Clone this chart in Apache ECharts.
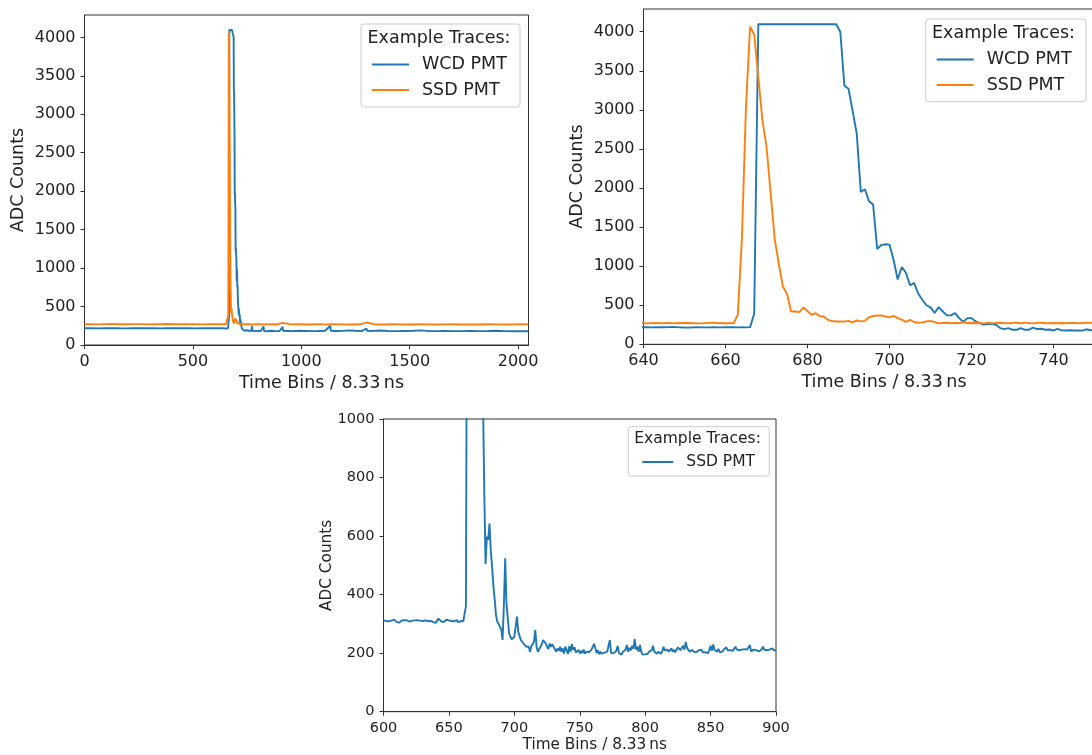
<!DOCTYPE html>
<html>
<head>
<meta charset="utf-8">
<script src="https://cdn.jsdelivr.net/npm/echarts@6/dist/echarts.min.js"></script>
<style>
  html, body { margin: 0; padding: 0; background: #fff; }
  #c { width: 1092px; height: 755px; }
</style>
</head>
<body>
<div id="c"></div>
<script>
// ---- Trace data: ADC counts per time bin ----

// WCD PMT, quiet region before the pulse ([bin, adc])
const wcdQuietBefore = [[0,217],[32,219],[64,216],[96,218],[128,220],[160,217],[192,216],[224,219],[256,218],[288,217],[320,219],[352,216],[384,218],[416,220],[448,217],[480,218],[512,216],[544,219],[576,217],[608,218],[624,217]];
// WCD PMT, every bin from 640 to 750
const wcdPulseStart = 640;
const wcdPulse = [
  218,218,217,218,218,219,220,222,220,217,
  215,214,216,218,217,216,217,218,217,216,
  218,219,218,217,218,217,220,390,4095,4095,
  4095,4095,4095,4095,4095,4095,4095,4095,4095,4095,
  4095,4095,4095,4095,4095,4095,4095,4095,4000,3310,
  3270,2990,2700,1950,1985,1830,1790,1220,1270,1280,
  1275,1080,830,990,915,755,785,650,570,500,
  472,400,476,420,370,370,400,335,285,335,
  335,293,272,252,258,258,250,207,194,207,
  186,186,207,186,186,214,195,199,186,190,
  177,197,178,177,180,176,177,175,192,180,
  182
];
// WCD PMT, tail after the pulse ([bin, adc])
const wcdQuietAfter = [[760,185],[770,182],[772,250],[774,185],[790,180],[800,183],[812,180],[826,240],[828,182],[845,178],[860,185],[880,180],[900,182],[914,235],[916,184],[940,182],[960,180],[990,185],[1020,183],[1050,180],[1080,182],[1110,185],[1134,250],[1136,185],[1160,182],[1190,184],[1220,190],[1250,186],[1280,183],[1301,215],[1303,185],[1330,183],[1360,188],[1400,182],[1440,180],[1480,183],[1520,185],[1550,190],[1580,183],[1620,181],[1660,183],[1700,181],[1740,180],[1780,182],[1820,180],[1860,182],[1900,185],[1940,180],[1980,179],[2020,178],[2047,178]];

// SSD PMT, quiet region before the pulse ([bin, adc])
const ssdQuietBefore = [[0,270],[32,272],[64,268],[96,271],[128,273],[160,270],[192,269],[224,272],[256,271],[288,268],[320,272],[352,270],[384,273],[416,269],[448,271],[480,270],[512,272],[544,268],[576,271],[608,270],[624,271]];
// SSD PMT, every bin from 640 to 750
const ssdPulseStart = 640;
const ssdPulse = [
  270,268,270,272,271,270,272,271,270,272,
  273,272,270,268,268,271,274,275,272,270,
  271,270,272,380,1350,3050,4065,3965,3420,2870,
  2530,1940,1350,1030,740,645,420,420,412,470,
  425,378,398,358,355,312,298,292,292,290,
  300,280,305,293,300,345,362,368,370,356,
  345,365,335,315,285,312,285,276,280,292,
  300,284,268,272,276,270,276,270,280,272,
  275,270,272,268,275,270,272,276,272,270,
  274,276,270,278,272,268,274,276,272,270,
  273,270,272,270,274,272,270,272,276,274,
  275
];
// SSD PMT, tail after the pulse ([bin, adc])
const ssdQuietAfter = [[760,272],[780,268],[800,271],[830,268],[860,270],[890,267],[914,288],[916,270],[950,268],[990,270],[1030,267],[1070,269],[1110,268],[1150,270],[1190,268],[1230,267],[1270,269],[1301,292],[1303,270],[1340,268],[1380,267],[1420,269],[1460,268],[1500,267],[1540,269],[1580,268],[1620,267],[1660,268],[1700,269],[1740,267],[1780,268],[1820,267],[1860,269],[1900,268],[1940,267],[1980,268],[2020,269],[2047,268]];

// Second SSD PMT trace, every bin from 600 to 900
const ssdZoomStart = 600;
const ssdZoom = [
  312,308,310,306,309,313,311,308,315,310,
  307,309,304,309,312,310,313,309,312,310,
  308,313,311,309,312,310,313,309,311,307,
  310,308,312,306,309,305,310,308,306,311,
  304,310,318,312,309,313,306,311,314,310,
  312,308,310,314,309,311,313,306,311,309,
  305,310,312,
  360,1800,3900,4090,4095,4095,4095,4000,3400,2700,2100,1700,1350,1080,760,505,598,587,643,
  552,495,430,384,330,307,300,290,281,245,
  360,524,370,368,268,256,247,245,256,262,
  325,273,279,245,239,233,228,222,216,222,
  205,224,231,239,279,222,205,202,222,
  231,245,247,233,222,214,233,222,231,222,
  225,205,216,208,222,205,216,199,222,211,
  197,224,205,231,211,220,202,205,211,199,
  208,200,212,198,205,200,203,198,212,222,
  232,215,200,210,196,205,198,192,202,196,
  205,200,245,200,195,200,194,208,225,200,
  198,195,205,202,212,228,205,218,210,225,
  215,248,212,222,205,228,205,195,197,196,
  200,198,205,200,210,225,205,200,198,205,
  203,198,206,222,210,205,212,205,210,216,
  205,212,203,208,220,214,210,218,225,212,
  238,218,212,205,200,212,205,208,203,200,
  210,205,212,203,198,203,206,200,210,225,
  208,230,212,218,205,215,203,208,205,212,
  208,220,210,205,210,212,208,215,222,212,
  208,210,206,212,210,214,208,212,210,228,
  206,210,212,208,210,212,206,210,213,222,
  212,208,210,206,212,210,216,210,208,212
];

// Axis ranges and tick labels
const fullRange = [0, 2048];
const fullTicks = [0, 500, 1000, 1500, 2000];
const pulseRange = [640, 750];
const pulseTicks = [640, 660, 680, 700, 720, 740];
const adcTopMax = 4291;
const adcTopTicks = [0, 500, 1000, 1500, 2000, 2500, 3000, 3500, 4000];
const zoomRange = [600, 900];
const zoomTicks = [600, 650, 700, 750, 800, 850, 900];
const adcZoomTicks = [0, 200, 400, 600, 800, 1000];

const xTitle = 'Time Bins / 8.33\u2009ns';
const yTitle = 'ADC Counts';
const legendTitle = 'Example Traces:';

// ---- Build series data ----
const perBin = (start, vals) => vals.map((v, i) => [start + i, v]);
const wcdTrace = wcdQuietBefore.concat(perBin(wcdPulseStart, wcdPulse), wcdQuietAfter);
const ssdTrace = ssdQuietBefore.concat(perBin(ssdPulseStart, ssdPulse), ssdQuietAfter);
const ssdZoomTrace = perBin(ssdZoomStart, ssdZoom);

const BLUE = '#1f77b4', ORANGE = '#ff7f0e';
const AXIS = '#333', TEXT = '#222';
const FONT = '"DejaVu Sans", sans-serif';
const plain = v => String(v);

function xAxisOf(gi, range, ticks, fs, nfs, gap) {
  return {
    type: 'value', gridIndex: gi, min: range[0], max: range[1],
    name: xTitle, nameLocation: 'middle', nameGap: gap, nameMoveOverlap: false,
    nameTextStyle: { fontSize: nfs, color: TEXT, fontFamily: FONT, padding: [0, 0, 0, 30] },
    axisLine: { show: true, onZero: false, lineStyle: { color: AXIS, width: 1 } },
    axisTick: { show: true, inside: false, length: 4, customValues: ticks, lineStyle: { color: AXIS } },
    axisLabel: { show: true, customValues: ticks, formatter: plain, fontSize: fs, color: TEXT, fontFamily: FONT, margin: 9 },
    splitLine: { show: false }
  };
}
function yAxisOf(gi, max, ticks, fs, nfs, gap) {
  return {
    type: 'value', gridIndex: gi, min: 0, max: max,
    name: yTitle, nameLocation: 'middle', nameRotate: 90, nameGap: gap, nameMoveOverlap: false,
    nameTextStyle: { fontSize: nfs, color: TEXT, fontFamily: FONT },
    axisLine: { show: true, onZero: false, lineStyle: { color: AXIS, width: 1 } },
    axisTick: { show: true, inside: false, length: 4, customValues: ticks, lineStyle: { color: AXIS } },
    axisLabel: { show: true, customValues: ticks, formatter: plain, fontSize: fs, color: TEXT, fontFamily: FONT, margin: 9 },
    splitLine: { show: false }
  };
}
function lineSeries(name, data, color, gi) {
  return {
    type: 'line', name, data, xAxisIndex: gi, yAxisIndex: gi,
    showSymbol: false, symbol: 'none', color,
    lineStyle: { color, width: 1.9 }, clip: true, silent: true
  };
}
function legendBox(x, y, w, h, titleX, titleY, fs) {
  return [
    { type: 'rect', z: 3, shape: { x, y, width: w, height: h, r: 3 },
      style: { fill: 'rgba(255,255,255,0.8)', stroke: '#cccccc', lineWidth: 1 } },
    { type: 'text', z: 4, x: titleX, y: titleY,
      style: { text: legendTitle, font: fs + 'px ' + FONT, fill: TEXT, verticalAlign: 'middle', align: 'left' } }
  ];
}
function legendOf(items, left, top, iw, fs, gap, pad) {
  return {
    data: items, orient: 'vertical', left, top, padding: 0,
    itemWidth: iw, itemHeight: 2, itemGap: gap, icon: 'rect', selectedMode: false, z: 5,
    textStyle: { fontSize: fs, color: TEXT, fontFamily: FONT, padding: [0, 0, 0, pad] }
  };
}

const gridBase = { show: true, borderColor: AXIS, borderWidth: 1, backgroundColor: 'transparent', containLabel: false, outerBoundsMode: 'none' };

const option = {
  animation: false,
  backgroundColor: '#fff',
  textStyle: { fontFamily: FONT },
  grid: [
    Object.assign({ left: 84.5, top: 15, width: 444, height: 330 }, gridBase),
    Object.assign({ left: 643.5, top: 9, width: 451, height: 335.3 }, gridBase),
    Object.assign({ left: 383.5, top: 419, width: 392.5, height: 292.7 }, gridBase)
  ],
  xAxis: [
    xAxisOf(0, fullRange, fullTicks, 16, 17.5, 29),
    xAxisOf(1, pulseRange, pulseTicks, 16, 17.5, 29),
    xAxisOf(2, zoomRange, zoomTicks, 14.5, 15.3, 26)
  ],
  yAxis: [
    yAxisOf(0, adcTopMax, adcTopTicks, 16, 17.5, 57),
    yAxisOf(1, adcTopMax, adcTopTicks, 16, 17.5, 57),
    yAxisOf(2, 1000, adcZoomTicks, 14.5, 15.3, 49)
  ],
  legend: [
    legendOf(['WCD PMT', 'SSD PMT'], 372, 55.5, 37, 17.5, 7.5, 8),
    legendOf(['WCD PMT', 'SSD PMT'], 936.7, 50.5, 37, 17.5, 7.5, 8),
    legendOf([{ name: 'SSD PMT', itemStyle: { color: BLUE } }], 642.3, 454, 31, 15.5, 7, 8)
  ],
  graphic: { elements: [].concat(
    legendBox(361, 24, 159, 83, 367.5, 38.5, 17.5),
    legendBox(925.7, 19, 160.3, 82.7, 932, 33.3, 17.5),
    legendBox(628.3, 426.7, 141, 49.3, 634.3, 439.3, 15.5)
  ) },
  series: [
    lineSeries('WCD PMT', wcdTrace, BLUE, 0),
    lineSeries('SSD PMT', ssdTrace, ORANGE, 0),
    lineSeries('WCD PMT', wcdTrace, BLUE, 1),
    lineSeries('SSD PMT', ssdTrace, ORANGE, 1),
    lineSeries('SSD PMT', ssdZoomTrace, BLUE, 2)
  ]
};

const chart = echarts.init(document.getElementById('c'), null, { renderer: 'canvas' });
chart.setOption(option);
</script>
</body>
</html>
